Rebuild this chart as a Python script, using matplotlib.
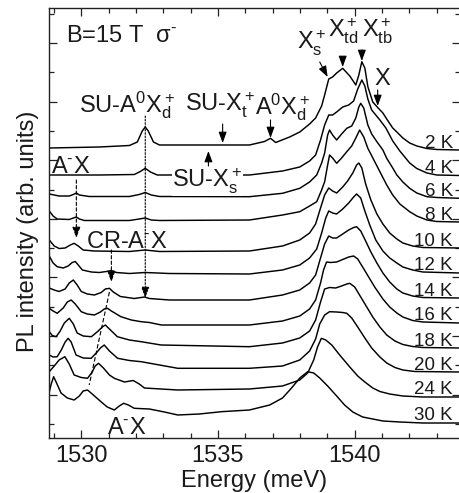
import numpy as np
import matplotlib
matplotlib.use('Agg')
import matplotlib.pyplot as plt
from matplotlib.ticker import MultipleLocator, FixedLocator

plt.rcParams['font.family'] = ['Liberation Sans', 'DejaVu Sans']
plt.rcParams['mathtext.fontset'] = 'custom'
plt.rcParams['mathtext.rm'] = 'Liberation Sans'
plt.rcParams['mathtext.it'] = 'Liberation Sans'
plt.rcParams['mathtext.sf'] = 'Liberation Sans'
plt.rcParams['mathtext.bf'] = 'Liberation Sans:bold'

# ---- PL spectra (energy in meV, intensity in arb. units incl. vertical offset) ----
temps = ['2 K', '4 K', '6 K', '8 K', '10 K', '12 K', '14 K', '16 K', '18 K', '20 K', '24 K', '30 K']

e_2K = [1528.83, 1530.66, 1531.76, 1532.05, 1532.23, 1532.34, 1532.45, 1532.64, 1532.86, 1534.32, 1536.15, 1536.70,
        1536.92, 1537.11, 1537.62, 1537.99, 1538.35, 1538.57, 1538.79, 1538.90, 1539.05, 1539.19, 1539.34, 1539.56,
        1539.82, 1540.04, 1540.15, 1540.26, 1540.37, 1540.48, 1540.66, 1540.84, 1541.03, 1541.17, 1541.39, 1541.54,
        1541.76, 1542.01, 1542.27, 1542.64, 1543.00, 1543.85]
i_2K = [29.0, 29.1, 29.25, 29.6, 30.7, 31.1, 30.7, 29.6, 29.3, 29.3, 29.3, 29.65,
        29.97, 29.55, 30.1, 30.6, 31.4, 32.0, 33.2, 34.3, 35.9, 36.1, 36.5, 36.97,
        36.2, 35.3, 36.3, 37.63, 37.0, 35.13, 33.6, 33.05, 32.5, 31.9, 31.0, 30.6,
        30.0, 29.5, 29.2, 28.95, 28.85, 28.8]

e_4K = [1528.83, 1530.66, 1531.94, 1532.16, 1532.34, 1532.53, 1532.78, 1536.15, 1537.36, 1537.99, 1538.35, 1538.57,
        1538.75, 1538.90, 1539.05, 1539.19, 1539.34, 1539.56, 1539.78, 1539.96, 1540.11, 1540.26, 1540.37, 1540.48,
        1540.62, 1540.77, 1540.92, 1541.14, 1541.39, 1541.65, 1542.01, 1542.27, 1542.64, 1543.00, 1543.85]
i_4K = [26.3, 26.3, 26.35, 26.65, 26.97, 26.6, 26.3, 26.3, 26.7, 27.1, 27.7, 28.3,
        29.8, 31.3, 32.3, 32.3, 32.6, 33.1, 33.3, 33.7, 34.9, 35.8, 35.2, 33.9,
        32.8, 32.3, 31.8, 31.0, 29.7, 28.7, 27.5, 26.95, 26.5, 26.3, 26.25]

e_6K = [1528.83, 1529.19, 1529.56, 1529.71, 1529.82, 1529.93, 1530.29, 1531.76, 1532.12, 1532.34, 1532.56, 1532.86,
        1536.15, 1537.36, 1537.99, 1538.35, 1538.61, 1538.79, 1538.90, 1539.01, 1539.08, 1539.19, 1539.34, 1539.52,
        1539.71, 1539.89, 1540.04, 1540.15, 1540.22, 1540.33, 1540.48, 1540.62, 1540.81, 1541.03, 1541.17, 1541.39,
        1541.54, 1541.76, 1542.01, 1542.27, 1542.64, 1543.00, 1543.85]
i_6K = [24.4, 24.2, 24.2, 24.35, 24.5, 24.3, 24.15, 24.15, 24.35, 24.55, 24.3, 24.15,
        24.13, 24.47, 24.97, 25.6, 26.3, 27.5, 28.5, 30.3, 30.8, 30.3, 29.8, 30.4,
        30.97, 31.2, 32.0, 33.1, 33.47, 33.0, 31.3, 30.4, 29.63, 28.8, 27.97, 27.0,
        26.3, 25.6, 24.97, 24.5, 24.13, 24.05, 23.97]

e_8K = [1528.83, 1528.97, 1529.12, 1529.56, 1529.71, 1529.82, 1529.93, 1530.11, 1531.76, 1532.12, 1532.34, 1532.56,
        1532.86, 1536.15, 1537.36, 1537.99, 1538.35, 1538.61, 1538.79, 1538.90, 1539.01, 1539.08, 1539.19, 1539.34,
        1539.52, 1539.71, 1539.89, 1540.04, 1540.18, 1540.33, 1540.48, 1540.70, 1540.92, 1541.17, 1541.39, 1541.65,
        1542.01, 1542.27, 1542.64, 1543.00, 1543.85]
i_8K = [22.7, 22.2, 21.9, 21.85, 22.0, 22.1, 21.9, 21.75, 21.75, 21.9, 22.0, 21.8,
        21.75, 21.8, 22.3, 22.63, 23.2, 23.63, 24.8, 25.63, 27.3, 28.3, 28.0, 27.47,
        28.0, 28.63, 29.2, 30.0, 30.8, 30.1, 28.97, 27.8, 26.63, 25.3, 24.3, 23.4,
        22.63, 22.2, 21.8, 21.65, 21.6]

e_10K = [1528.83, 1529.01, 1529.19, 1529.41, 1529.60, 1529.74, 1529.89, 1530.07, 1530.48, 1531.76, 1532.34, 1532.86,
         1536.15, 1537.36, 1537.99, 1538.35, 1538.57, 1538.75, 1538.90, 1539.05, 1539.19, 1539.34, 1539.56, 1539.74,
         1539.93, 1540.07, 1540.15, 1540.26, 1540.40, 1540.59, 1540.81, 1541.03, 1541.28, 1541.54, 1541.76, 1542.12,
         1542.49, 1543.85]
i_10K = [19.8, 19.2, 18.95, 19.0, 19.3, 19.47, 19.2, 18.8, 18.7, 18.65, 18.8, 18.65,
         18.7, 19.2, 19.8, 20.5, 21.4, 23.0, 24.3, 25.0, 24.7, 24.5, 25.1, 25.7,
         26.5, 27.3, 27.5, 27.0, 25.4, 23.8, 22.4, 21.4, 20.5, 19.9, 19.5, 19.2,
         19.05, 19.0]

e_12K = [1528.83, 1528.97, 1529.12, 1529.34, 1529.52, 1529.67, 1529.78, 1529.89, 1530.04, 1530.37, 1530.66, 1530.92,
         1531.10, 1531.28, 1531.76, 1532.34, 1533.22, 1536.15, 1537.36, 1537.99, 1538.35, 1538.61, 1538.79, 1538.94,
         1539.05, 1539.19, 1539.34, 1539.56, 1539.78, 1539.96, 1540.07, 1540.22, 1540.37, 1540.55, 1540.77, 1541.03,
         1541.28, 1541.54, 1541.76, 1542.12, 1542.49, 1543.85]
i_12K = [18.2, 17.5, 17.13, 17.0, 17.2, 17.55, 17.65, 17.3, 16.8, 16.6, 16.55, 16.65,
         16.75, 16.55, 16.45, 16.55, 16.45, 16.4, 16.8, 17.3, 18.0, 18.9, 20.5, 22.0,
         22.7, 22.5, 22.4, 22.9, 23.5, 24.1, 24.4, 24.0, 22.7, 21.3, 19.8, 18.7,
         18.0, 17.5, 17.1, 16.8, 16.6, 16.5]

e_14K = [1528.83, 1529.01, 1529.19, 1529.41, 1529.56, 1529.71, 1529.85, 1530.00, 1530.22, 1530.48, 1530.73, 1530.88,
         1531.03, 1531.17, 1531.43, 1531.94, 1532.31, 1532.49, 1533.22, 1536.15, 1537.36, 1537.99, 1538.35, 1538.57,
         1538.75, 1538.90, 1539.05, 1539.19, 1539.34, 1539.56, 1539.78, 1539.96, 1540.07, 1540.22, 1540.40, 1540.59,
         1540.81, 1541.03, 1541.28, 1541.54, 1541.76, 1542.12, 1542.49, 1543.85]
i_14K = [15.0, 14.8, 14.65, 14.9, 15.5, 15.8, 15.3, 14.65, 14.4, 14.3, 14.55, 14.9,
         14.97, 14.6, 14.15, 13.95, 14.1, 13.95, 13.8, 13.8, 14.3, 14.8, 15.5, 16.3,
         18.0, 19.4, 20.2, 20.0, 20.0, 20.4, 20.8, 21.05, 21.13, 20.7, 19.7, 18.6,
         17.5, 16.5, 15.6, 14.9, 14.5, 14.2, 14.05, 14.0]

e_16K = [1528.83, 1528.97, 1529.12, 1529.34, 1529.49, 1529.63, 1529.78, 1530.00, 1530.22, 1530.48, 1530.70, 1530.84,
         1530.96, 1531.10, 1531.45, 1531.83, 1532.19, 1532.49, 1532.93, 1536.15, 1537.36, 1537.99, 1538.35, 1538.57,
         1538.75, 1538.86, 1538.97, 1539.12, 1539.34, 1539.56, 1539.78, 1539.96, 1540.11, 1540.29, 1540.51, 1540.73,
         1541.03, 1541.28, 1541.54, 1541.76, 1542.12, 1542.49, 1543.85]
i_16K = [12.97, 12.7, 12.47, 13.0, 13.6, 13.8, 13.4, 12.63, 12.4, 12.3, 12.6, 12.9,
         12.97, 12.7, 12.13, 11.8, 11.63, 11.55, 11.3, 11.3, 11.7, 12.2, 12.9, 13.8,
         15.5, 16.8, 17.6, 17.55, 17.6, 17.85, 18.1, 18.2, 17.9, 17.1, 16.1, 15.1,
         13.9, 13.1, 12.5, 12.1, 11.75, 11.6, 11.5]

e_18K = [1528.83, 1528.94, 1529.08, 1529.23, 1529.38, 1529.56, 1529.71, 1529.85, 1530.07, 1530.37, 1530.62, 1530.77,
         1530.88, 1531.03, 1531.32, 1531.76, 1532.19, 1532.92, 1536.15, 1537.36, 1537.99, 1538.35, 1538.57, 1538.75,
         1538.90, 1539.08, 1539.30, 1539.52, 1539.71, 1539.82, 1540.00, 1540.22, 1540.44, 1540.66, 1540.92, 1541.17,
         1541.47, 1541.76, 1542.12, 1542.49, 1543.85]
i_18K = [10.63, 10.25, 10.13, 10.7, 11.5, 11.97, 11.4, 10.5, 10.2, 10.13, 10.7, 11.1,
         11.3, 10.9, 10.13, 9.8, 9.63, 9.3, 9.13, 9.5, 10.0, 10.7, 11.8, 13.6,
         14.9, 15.05, 15.0, 15.2, 15.4, 15.47, 15.1, 14.1, 13.1, 12.1, 11.1, 10.3,
         9.7, 9.35, 9.15, 9.05, 9.0]

e_20K = [1528.83, 1528.97, 1529.12, 1529.27, 1529.41, 1529.52, 1529.63, 1529.81, 1530.07, 1530.36, 1530.55, 1530.70,
         1530.84, 1531.03, 1531.33, 1531.76, 1532.19, 1532.86, 1533.53, 1536.15, 1537.36, 1537.99, 1538.35, 1538.57,
         1538.72, 1538.90, 1539.08, 1539.34, 1539.56, 1539.71, 1539.89, 1540.11, 1540.37, 1540.62, 1540.92, 1541.17,
         1541.47, 1541.76, 1542.20, 1543.85]
i_20K = [8.3, 8.1, 8.13, 8.8, 9.6, 9.97, 9.6, 8.3, 8.0, 7.97, 8.5, 9.0,
         9.3, 8.7, 7.97, 7.75, 7.63, 7.3, 6.97, 6.97, 7.2, 7.8, 8.7, 9.9,
         11.4, 12.3, 12.63, 12.6, 12.55, 12.47, 12.0, 11.1, 10.0, 9.0, 8.1, 7.5,
         7.05, 6.8, 6.65, 6.6]

e_24K = [1528.83, 1529.01, 1529.19, 1529.40, 1529.56, 1529.74, 1530.00, 1530.23, 1530.40, 1530.51, 1530.63, 1530.81,
         1531.03, 1531.21, 1531.58, 1531.90, 1532.12, 1532.31, 1533.53, 1536.15, 1537.36, 1537.99, 1538.28, 1538.50,
         1538.64, 1538.78, 1538.94, 1539.16, 1539.45, 1539.82, 1540.11, 1540.37, 1540.66, 1540.92, 1541.28, 1541.76,
         1542.49, 1543.85]
i_24K = [6.63, 7.2, 7.8, 8.13, 7.4, 6.3, 6.05, 5.97, 6.6, 7.2, 7.47, 7.0,
         6.3, 5.97, 5.6, 5.75, 5.4, 5.0, 4.8, 4.9, 5.2, 5.8, 6.5, 7.8,
         9.1, 9.97, 9.8, 9.3, 8.3, 7.1, 6.2, 5.6, 5.0, 4.65, 4.4, 4.2,
         4.1, 4.1]

e_30K = [1528.83, 1528.90, 1528.99, 1529.08, 1529.26, 1529.49, 1529.74, 1529.93, 1530.07, 1530.23, 1530.40, 1530.72,
         1530.95, 1531.21, 1531.39, 1531.55, 1531.72, 1531.94, 1532.49, 1533.04, 1533.53, 1534.32, 1535.12, 1536.15,
         1536.89, 1537.36, 1537.69, 1537.99, 1538.28, 1538.50, 1538.72, 1539.01, 1539.34, 1539.63, 1539.93, 1540.29,
         1540.66, 1541.03, 1541.65, 1542.49, 1543.85]
i_30K = [4.6, 5.4, 6.13, 5.6, 4.5, 4.0, 3.8, 4.2, 4.7, 4.8, 4.4, 3.63,
         3.1, 2.8, 3.2, 3.47, 3.3, 2.97, 2.9, 2.6, 2.3, 2.4, 2.63, 2.8,
         3.3, 4.0, 5.0, 6.0, 6.63, 6.5, 6.0, 5.2, 4.2, 3.3, 2.6, 2.1,
         1.9, 1.7, 1.6, 1.5, 1.5]

energies = [e_2K, e_4K, e_6K, e_8K, e_10K, e_12K, e_14K, e_16K, e_18K, e_20K, e_24K, e_30K]
intensities = [i_2K, i_4K, i_6K, i_8K, i_10K, i_12K, i_14K, i_16K, i_18K, i_20K, i_24K, i_30K]

# ---- figure ----
W, H = 459, 493
fig = plt.figure(figsize=(W / 100, H / 100), dpi=100)
ax = fig.add_axes([49 / W, 55 / H, 411 / W, 430 / H])

for e, i in zip(energies, intensities):
    ax.plot(e, i, color='black', lw=1.05, solid_joinstyle='round')

ax.set_xlim(1528.82, 1543.85)
ax.set_ylim(0, 43)

# axis ticks
ax.xaxis.set_major_locator(FixedLocator([1530, 1535, 1540]))
ax.xaxis.set_minor_locator(MultipleLocator(1))
ymajor = np.arange(39.5, 0, -5.86)
yminor = np.arange(42.43, 0, -2.93)
ax.yaxis.set_major_locator(FixedLocator(ymajor))
ax.yaxis.set_minor_locator(FixedLocator(yminor))
ax.set_yticklabels([])
ax.tick_params(which='both', direction='in', top=True, right=True, width=0.9, colors='#222222')
ax.tick_params(which='major', length=6)
ax.tick_params(which='minor', length=3.5)
ax.tick_params(axis='x', labelsize=17, pad=5, labelcolor='#1a1a1a')
for s in ax.spines.values():
    s.set_linewidth(1.0)
    s.set_color('#222222')

ax.set_xlabel('Energy (meV)', fontsize=17, labelpad=2, color='#1a1a1a')
ax.set_ylabel('PL intensity (arb. units)', fontsize=17, color='#1a1a1a')
ax.yaxis.set_label_coords(-0.024, 0.481)

# temperature labels at the right end of each spectrum
for t, i in zip(temps, intensities):
    ax.text(1543.59, i[-1] + 0.25, t, fontsize=13.5, ha='right', va='baseline', color='#1a1a1a')

# ---- annotations ----
fs = 17
tc = '#1a1a1a'
neg = r'$^{\text{-}}$'
ax.text(1529.45, 39.6, 'B=15 T  σ' + neg, fontsize=fs, color=tc, va='baseline')
ax.text(1529.93, 32.6, 'SU-A$^0$X$^+_d$', fontsize=fs, color=tc, va='baseline')
ax.text(1533.81, 32.6, 'SU-X$^+_t$', fontsize=fs, color=tc, va='baseline')
ax.text(1536.34, 32.4, 'A$^0$X$^+_d$', fontsize=fs, color=tc, va='baseline')
ax.text(1537.88, 38.8, 'X$^+_s$', fontsize=fs, color=tc, va='baseline')
ax.text(1539.01, 40.0, 'X$^+_{td}$', fontsize=fs, color=tc, va='baseline')
ax.text(1540.26, 40.0, 'X$^+_{tb}$', fontsize=fs, color=tc, va='baseline')
ax.text(1540.73, 35.3, 'X', fontsize=fs, color=tc, va='baseline')
ax.text(1528.90, 26.5, 'A' + neg + 'X', fontsize=fs, color=tc, va='baseline')
ax.text(1533.33, 25.1, 'SU-X$^+_s$', fontsize=fs, color=tc, va='baseline',
        bbox=dict(facecolor='white', edgecolor='none', pad=0.5))
ax.text(1530.18, 19.0, 'CR-A' + neg + 'X', fontsize=fs, color=tc, va='baseline')
ax.text(1530.95, 0.4, 'A' + neg + 'X', fontsize=fs, color=tc, va='baseline')


def arrow(x0, y0, x1, y1, ls='-'):
    ax.annotate('', xy=(x1, y1), xytext=(x0, y0),
                arrowprops=dict(arrowstyle='-|>,head_length=0.6,head_width=0.22',
                                color='black', lw=0.8, linestyle=ls,
                                shrinkA=0, shrinkB=0, mutation_scale=11))


arrow(1535.17, 31.4, 1535.17, 29.5)          # SU-X_t
arrow(1534.65, 27.2, 1534.65, 28.7)          # SU-X_s (upward)
arrow(1536.92, 31.8, 1536.92, 30.0)          # A0X_d
arrow(1538.72, 37.6, 1539.01, 36.1)          # X_s
arrow(1539.56, 38.1, 1539.56, 37.1)          # X_td
arrow(1540.26, 38.8, 1540.26, 37.7)          # X_tb
arrow(1540.84, 34.8, 1540.84, 33.2)          # X
arrow(1529.82, 25.8, 1529.82, 20.0, ls=(0, (3, 2)))   # A-X
arrow(1531.10, 18.8, 1531.10, 15.6, ls=(0, (3, 2)))   # CR-A-X
arrow(1532.34, 32.2, 1532.34, 14.0, ls=(0, (1.5, 1.5)))  # SU-A0X_d

# CR-A-X peak shift guide
ax.plot([1531.03, 1530.29], [14.6, 5.3], color='black', lw=0.8, ls=(0, (4, 2)))

fig.savefig('out.png', dpi=100)
